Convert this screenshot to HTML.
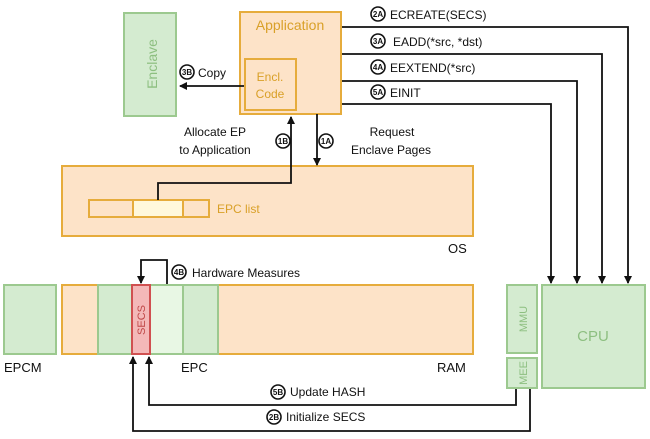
<!DOCTYPE html>
<html><head><meta charset="utf-8"><style>
html,body{margin:0;padding:0;background:#fff;width:650px;height:439px;overflow:hidden}
text{font-family:"Liberation Sans",sans-serif}
</style></head><body>
<svg width="650" height="439" viewBox="0 0 650 439" xmlns="http://www.w3.org/2000/svg">
<defs>
<marker id="a" markerWidth="8" markerHeight="8" refX="7" refY="4" orient="auto" markerUnits="userSpaceOnUse">
<path d="M0,0 L8,4 L0,8 z" fill="#111"/></marker>
</defs>
<g fill="none" stroke="#111" stroke-width="1.8">
<!-- command lines -->
<path d="M341,27 H628 V283" marker-end="url(#a)"/>
<path d="M341,54 H602 V283" marker-end="url(#a)"/>
<path d="M341,81 H577 V283" marker-end="url(#a)"/>
<path d="M341,104 H551 V283" marker-end="url(#a)"/>
</g>
<!-- Enclave -->
<rect x="124" y="13" width="52" height="103" fill="#d4ebd0" stroke="#9cc98f" stroke-width="2"/>
<text transform="translate(157,64) rotate(-90)" text-anchor="middle" font-size="14" fill="#8dbf80">Enclave</text>
<!-- Application -->
<rect x="240" y="12" width="101" height="102" fill="#fde3c8" stroke="#e6ac3c" stroke-width="2"/>
<text x="290" y="30" text-anchor="middle" font-size="14" fill="#d9a028">Application</text>
<rect x="245" y="59" width="51" height="51" fill="#fde3c8" stroke="#e6ac3c" stroke-width="2"/>
<text x="270" y="81" text-anchor="middle" font-size="12" fill="#d9a028">Encl.</text>
<text x="270" y="98" text-anchor="middle" font-size="12" fill="#d9a028">Code</text>
<!-- OS -->
<rect x="62" y="166" width="411" height="70" fill="#fde3c8" stroke="#e6ac3c" stroke-width="2"/>
<rect x="89" y="200" width="120" height="17" fill="#fde3c8" stroke="#e6ac3c" stroke-width="2"/>
<rect x="133" y="200" width="50" height="17" fill="#fff8dc" stroke="#e6ac3c" stroke-width="2"/>
<text x="217" y="213" font-size="12" fill="#d9a028">EPC list</text>
<text x="448" y="253" font-size="13" fill="#111">OS</text>
<g fill="none" stroke="#111" stroke-width="1.8">
<path d="M244,86 H180" marker-end="url(#a)"/>
<path d="M158,200 V183 H291 V117" marker-end="url(#a)"/>
<path d="M317,114 V165" marker-end="url(#a)"/>
<path d="M167,285 V260 H141 V283" marker-end="url(#a)"/>
<path d="M516,388 V405 H149 V357" marker-end="url(#a)"/>
<path d="M530,388 V431 H133 V357" marker-end="url(#a)"/>
</g>
<!-- circled labels -->
<g fill="none" stroke="#111" stroke-width="1.6">
<circle cx="378" cy="14" r="7"/><circle cx="378" cy="41" r="7"/><circle cx="378" cy="67" r="7"/><circle cx="378" cy="92" r="7"/>
<circle cx="187" cy="72" r="7"/><circle cx="283" cy="141" r="7"/><circle cx="326" cy="141" r="7"/>
<circle cx="179" cy="272" r="7"/><circle cx="278" cy="392" r="7"/><circle cx="274" cy="417" r="7"/>
</g>
<g font-size="8" font-weight="bold" text-anchor="middle" fill="#111">
<text x="378" y="17">2A</text><text x="378" y="44">3A</text><text x="378" y="70">4A</text><text x="378" y="95">5A</text>
<text x="187" y="75">3B</text><text x="283" y="144">1B</text><text x="326" y="144">1A</text>
<text x="179" y="275">4B</text><text x="278" y="395">5B</text><text x="274" y="420">2B</text>
</g>
<g font-size="12" fill="#111">
<text x="390" y="19">ECREATE(SECS)</text>
<text x="393" y="46">EADD(*src, *dst)</text>
<text x="390" y="72">EEXTEND(*src)</text>
<text x="390" y="97">EINIT</text>
<text x="198" y="77">Copy</text>
<text x="215" y="136" text-anchor="middle">Allocate EP</text>
<text x="215" y="154" text-anchor="middle">to Application</text>
<text x="392" y="136" text-anchor="middle">Request</text>
<text x="391" y="154" text-anchor="middle">Enclave Pages</text>
<text x="192" y="277">Hardware Measures</text>
<text x="290" y="396">Update HASH</text>
<text x="286" y="421">Initialize SECS</text>
</g>
<!-- bottom boxes -->
<rect x="4" y="285" width="52" height="69" fill="#d4ebd0" stroke="#9cc98f" stroke-width="2"/>
<rect x="62" y="285" width="411" height="69" fill="#fde3c8" stroke="#e6ac3c" stroke-width="2"/>
<rect x="98" y="285" width="120" height="69" fill="#d4ebd0" stroke="#9cc98f" stroke-width="2"/>
<rect x="150" y="285" width="33" height="69" fill="#e8f7e4" stroke="#9cc98f" stroke-width="2"/>
<rect x="132" y="285" width="18" height="69" fill="#f4b8b8" stroke="#d05050" stroke-width="2"/>
<text transform="translate(145,320) rotate(-90)" text-anchor="middle" font-size="11" fill="#c04848">SECS</text>
<g font-size="13" fill="#111">
<text x="4" y="372">EPCM</text><text x="181" y="372">EPC</text><text x="437" y="372">RAM</text>
</g>
<rect x="507" y="285" width="30" height="68" fill="#d4ebd0" stroke="#9cc98f" stroke-width="2"/>
<rect x="507" y="358" width="30" height="30" fill="#d4ebd0" stroke="#9cc98f" stroke-width="2"/>
<rect x="542" y="285" width="103" height="103" fill="#d4ebd0" stroke="#9cc98f" stroke-width="2"/>
<text transform="translate(527,319) rotate(-90)" text-anchor="middle" font-size="11" fill="#8dbf80">MMU</text>
<text transform="translate(527,373) rotate(-90)" text-anchor="middle" font-size="11" fill="#8dbf80">MEE</text>
<text x="593" y="341" text-anchor="middle" font-size="15" fill="#8dbf80">CPU</text>
</svg>
</body></html>
